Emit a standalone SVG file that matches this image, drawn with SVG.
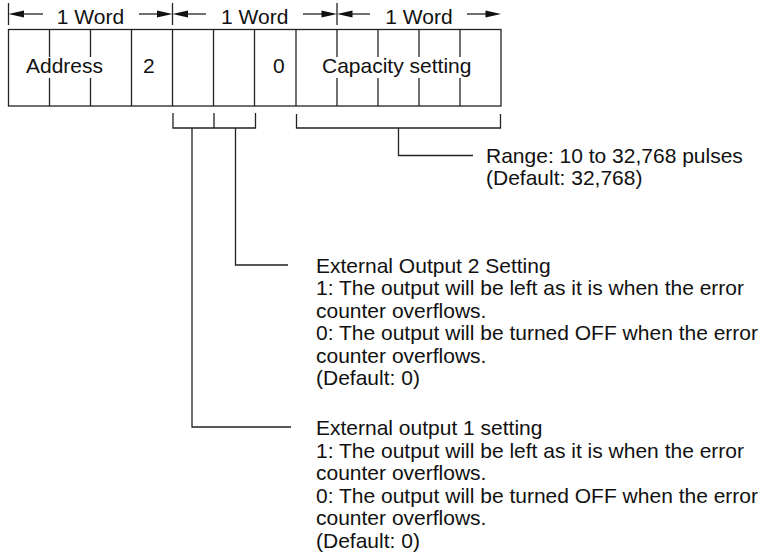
<svg xmlns="http://www.w3.org/2000/svg" width="768" height="558" viewBox="0 0 768 558">
  <style>
    .t { font-family: "Liberation Sans", Arial, Helvetica, sans-serif; font-size: 21px; fill: #111; }
    .m { text-anchor: middle; }
    .ln { stroke: #222; stroke-width: 1.3; fill: none; }
    .ah { fill: #111; stroke: none; }
  </style>
  <defs>
    <polygon id="ahL" class="ah" points="0,0 15.5,-3.6 15.5,3.6"/>
    <polygon id="ahR" class="ah" points="0,0 -15.5,-3.6 -15.5,3.6"/>
  </defs>

  <g id="word-dimensions">
    <g id="word1">
      <line class="ln" x1="8.5" y1="3" x2="8.5" y2="25"/>
      <use href="#ahL" x="8.5" y="14"/>
      <line class="ln" x1="22" y1="14" x2="43" y2="14"/>
      <text class="t m" x="90.5" y="24">1 Word</text>
      <line class="ln" x1="139" y1="14" x2="159" y2="14"/>
      <use href="#ahR" x="172.5" y="14"/>
    </g>
    <g id="word2">
      <line class="ln" x1="172.5" y1="3" x2="172.5" y2="25"/>
      <use href="#ahL" x="172.5" y="14"/>
      <line class="ln" x1="186" y1="14" x2="206" y2="14"/>
      <text class="t m" x="254.75" y="24">1 Word</text>
      <line class="ln" x1="303" y1="14" x2="323" y2="14"/>
      <use href="#ahR" x="337" y="14"/>
    </g>
    <g id="word3">
      <line class="ln" x1="337" y1="3" x2="337" y2="25"/>
      <use href="#ahL" x="337" y="14"/>
      <line class="ln" x1="350" y1="14" x2="370" y2="14"/>
      <text class="t m" x="419" y="24">1 Word</text>
      <line class="ln" x1="467" y1="14" x2="488" y2="14"/>
      <use href="#ahR" x="501" y="14"/>
    </g>
  </g>

  <g id="record">
    <rect class="ln" x="8.5" y="29.5" width="492.5" height="76.5"/>
    <g id="cell-address">
      <line class="ln" x1="49.5" y1="29.5" x2="49.5" y2="57"/>
      <line class="ln" x1="49.5" y1="78" x2="49.5" y2="106"/>
      <line class="ln" x1="90.5" y1="29.5" x2="90.5" y2="57"/>
      <line class="ln" x1="90.5" y1="78" x2="90.5" y2="106"/>
      <text class="t" x="26" y="73">Address</text>
    </g>
    <g id="cell-2">
      <line class="ln" x1="131.5" y1="29.5" x2="131.5" y2="106"/>
      <text class="t" x="143" y="73">2</text>
    </g>
    <g id="cell-bits">
      <line class="ln" x1="172.5" y1="29.5" x2="172.5" y2="106"/>
      <line class="ln" x1="213.5" y1="29.5" x2="213.5" y2="106"/>
      <line class="ln" x1="254.5" y1="29.5" x2="254.5" y2="106"/>
    </g>
    <g id="cell-0">
      <text class="t" x="273" y="73">0</text>
    </g>
    <g id="cell-capacity">
      <line class="ln" x1="296" y1="29.5" x2="296" y2="106"/>
      <line class="ln" x1="337" y1="29.5" x2="337" y2="57"/>
      <line class="ln" x1="337" y1="78" x2="337" y2="106"/>
      <line class="ln" x1="378" y1="29.5" x2="378" y2="57"/>
      <line class="ln" x1="378" y1="78" x2="378" y2="106"/>
      <line class="ln" x1="419" y1="29.5" x2="419" y2="57"/>
      <line class="ln" x1="419" y1="78" x2="419" y2="106"/>
      <line class="ln" x1="460" y1="29.5" x2="460" y2="57"/>
      <line class="ln" x1="460" y1="78" x2="460" y2="106"/>
      <text class="t" x="322" y="73">Capacity setting</text>
    </g>
  </g>

  <g id="connectors">
    <path class="ln" d="M173,113 V128 H255.5 V113 M214,113 V128"/>
    <path class="ln" d="M192,128 V427 H291"/>
    <path class="ln" d="M235.5,128 V265 H288"/>
    <path class="ln" d="M296.5,114 V128 H500.5 V114"/>
    <path class="ln" d="M398.5,128 V155.5 H473"/>
  </g>

  <g id="note-range">
    <text class="t" x="486" y="162.5">Range: 10 to 32,768 pulses</text>
    <text class="t" x="486" y="185">(Default: 32,768)</text>
  </g>

  <g id="note-output2">
    <text class="t" x="316" y="272.5">External Output 2 Setting</text>
    <text class="t" x="316" y="295">1: The output will be left as it is when the error</text>
    <text class="t" x="316" y="317.5">counter overflows.</text>
    <text class="t" x="316" y="340">0: The output will be turned OFF when the error</text>
    <text class="t" x="316" y="362.5">counter overflows.</text>
    <text class="t" x="316" y="385">(Default: 0)</text>
  </g>

  <g id="note-output1">
    <text class="t" x="316" y="435">External output 1 setting</text>
    <text class="t" x="316" y="457.5">1: The output will be left as it is when the error</text>
    <text class="t" x="316" y="480">counter overflows.</text>
    <text class="t" x="316" y="502.5">0: The output will be turned OFF when the error</text>
    <text class="t" x="316" y="525">counter overflows.</text>
    <text class="t" x="316" y="547.5">(Default: 0)</text>
  </g>
</svg>
